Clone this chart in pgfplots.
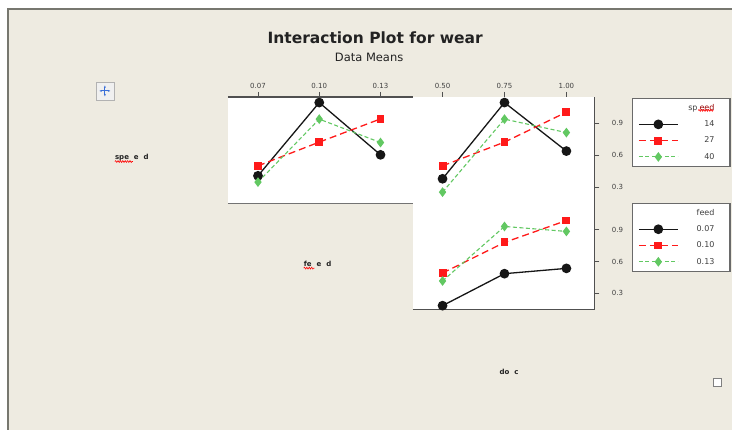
\documentclass[border=0pt]{standalone}
\usepackage{pgfplots}
\pgfplotsset{compat=1.18}
\usepackage{fontspec}
\setmainfont{DejaVu Sans}
\usetikzlibrary{decorations.pathmorphing,arrows.meta}

\definecolor{bgbeige}{HTML}{EEEBE1}
\definecolor{frameGray}{HTML}{77776F}
\definecolor{axGray}{HTML}{505050}
\definecolor{tickText}{HTML}{404040}
\definecolor{labCol}{HTML}{222222}
\definecolor{s14}{HTML}{161616}
\definecolor{s27}{HTML}{FF1A1A}
\definecolor{s40}{HTML}{62C862}
\definecolor{iconBlue}{HTML}{3A6FD8}

% legend text: right-aligned in a fixed-width cell with right padding
\newcommand\lgt[1]{\hbox to 44pt{\hfil#1\hskip 10pt}}

\tikzset{
  squig/.style={red, line width=0.6pt, decorate,
    decoration={snake, amplitude=0.9pt, segment length=2.4pt}},
}

\pgfplotsset{
  panel/.style={
    scale only axis, clip=false,
    axis background/.style={fill=white},
    ymin=0.145, ymax=1.145,
    tick align=outside, major tick length=5pt,
    tick style={axGray, line width=0.8pt},
    ticklabel style={font=\fontsize{7}{8}\selectfont, text=tickText},
    legend cell align=right,
    legend image code/.code={%
      \draw[mark repeat=2, mark phase=2] plot coordinates {(0pt,0pt) (19.5pt,0pt) (39pt,0pt)};},
  },
  s1/.style={s14, solid, line width=1.3pt, mark=*, mark size=4.2pt, mark options={solid, fill=s14}},
  s2/.style={s27, dash pattern=on 7pt off 4pt, line width=1.3pt, mark=square*, mark size=3.3pt, mark options={solid, fill=s27}},
  s3/.style={s40, dash pattern=on 4pt off 2.5pt, line width=1.1pt, mark=diamond*, mark size=4pt, mark options={solid, fill=s40}},
  legbox/.style={
    anchor=north west, draw=axGray!85, line width=1.4pt, fill=white,
    inner xsep=5.5pt, inner ysep=1.5pt, column sep=2pt,
    font=\fontsize{8}{9.6}\selectfont, text=tickText,
    nodes={inner sep=0pt, minimum height=16.3pt},
  },
}

\begin{document}
\begin{tikzpicture}
% window background and frame
\fill[white] (0pt,0pt) rectangle (733pt,430pt);
\fill[bgbeige] (8pt,0pt) rectangle (733pt,421pt);
\draw[frameGray, line width=1.5pt] (8pt,0pt) -- (8pt,421pt) -- (733pt,421pt);
\useasboundingbox (0pt,0pt) rectangle (733pt,430pt);

% titles
\node[anchor=base, font=\fontsize{15.5}{18}\selectfont\bfseries, text=labCol] at (375.5pt,386pt) {Interaction Plot for wear};
\node[anchor=base, font=\fontsize{11.5}{13}\selectfont, text=labCol] at (369.5pt,368.3pt) {Data Means};

% speed x feed
\begin{axis}[panel, at={(228pt,226pt)}, anchor=south west, width=185pt, height=107pt,
  xmin=0.0552, xmax=0.1457,
  axis x line*=top, axis y line=none,
  x axis line style={-, axGray, line width=1.3pt},
  xtick={0.07,0.10,0.13}, xticklabels={0.07,0.10,0.13}]
\addplot[s1] coordinates {(0.07,0.407) (0.10,1.092) (0.13,0.603)};
\addplot[s2] coordinates {(0.07,0.500) (0.10,0.722) (0.13,0.939)};
\addplot[s3] coordinates {(0.07,0.348) (0.10,0.937) (0.13,0.718)};
\draw[axGray!80, line width=1.2pt] (rel axis cs:0,0) -- (rel axis cs:1,0);
\end{axis}

% speed x doc
\begin{axis}[panel, at={(413pt,226pt)}, anchor=south west, width=182pt, height=107pt,
  xmin=0.379, xmax=1.113,
  axis x line*=top, axis y line*=right,
  x axis line style={draw=none},
  y axis line style={-, axGray, line width=1.3pt},
  xtick={0.5,0.75,1.0}, xticklabels={0.50,0.75,1.00},
  ytick={0.3,0.6,0.9}, yticklabels={0.3,0.6,0.9},
  yticklabel style={xshift=9pt},
  legend style={legbox, at={(1.207,0.992)}}]
\addlegendimage{empty legend}
\addlegendentry{\lgt{sp\kern2pt\textcolor{red!60!black}{eed}}}
\addplot[s1] coordinates {(0.50,0.379) (0.75,1.092) (1.00,0.638)};
\addlegendentry{\lgt{14}}
\addplot[s2] coordinates {(0.50,0.500) (0.75,0.722) (1.00,1.002)};
\addlegendentry{\lgt{27}}
\addplot[s3] coordinates {(0.50,0.254) (0.75,0.937) (1.00,0.811)};
\addlegendentry{\lgt{40}}
\end{axis}

% feed x doc
\begin{axis}[panel, at={(413pt,120pt)}, anchor=south west, width=182pt, height=106pt,
  xmin=0.379, xmax=1.113,
  axis x line*=bottom, axis y line*=right,
  x axis line style={-, axGray, line width=1.3pt},
  y axis line style={-, axGray, line width=1.3pt},
  xtick=\empty,
  ytick={0.3,0.6,0.9}, yticklabels={0.3,0.6,0.9},
  yticklabel style={xshift=9pt},
  legend style={legbox, at={(1.207,1.011)}}]
\addlegendimage{empty legend}
\addlegendentry{\lgt{feed}}
\addplot[s1] coordinates {(0.50,0.183) (0.75,0.485) (1.00,0.535)};
\addlegendentry{\lgt{0.07}}
\addplot[s2] coordinates {(0.50,0.491) (0.75,0.780) (1.00,0.987)};
\addlegendentry{\lgt{0.10}}
\addplot[s3] coordinates {(0.50,0.416) (0.75,0.931) (1.00,0.884)};
\addlegendentry{\lgt{0.13}}
\end{axis}

% factor names
\node[anchor=base west, inner sep=0pt, font=\fontsize{7}{8}\selectfont\bfseries, text=labCol] at (115pt,270pt) {spe\kern5pt e\kern5pt d};
\node[anchor=base west, inner sep=0pt, font=\fontsize{7}{8}\selectfont\bfseries, text=labCol] at (304pt,163.3pt) {fe\kern5pt e\kern5pt d};
\node[anchor=base west, inner sep=0pt, font=\fontsize{7}{8}\selectfont\bfseries, text=labCol] at (500pt,55pt) {do\kern5pt c};

% spell-check underlines
\draw[squig] (115pt,268.3pt) -- (133pt,268.3pt);
\draw[squig] (304pt,161.6pt) -- (315pt,161.6pt);
\draw[squig] (699pt,319.5pt) -- (714pt,319.5pt);

% move handle and resize box
\draw[gray!60, fill=gray!12] (96pt,330pt) rectangle (114pt,348pt);
\draw[iconBlue, line width=1pt, {Stealth[length=2.5pt]}-{Stealth[length=2.5pt]}] (99.5pt,339pt) -- (110.5pt,339pt);
\draw[iconBlue, line width=1pt, {Stealth[length=2.5pt]}-{Stealth[length=2.5pt]}] (105pt,333.5pt) -- (105pt,344.5pt);
\draw[gray, line width=0.8pt, fill=white] (714.5pt,43.5pt) rectangle (722.5pt,51.5pt);
\end{tikzpicture}
\end{document}
